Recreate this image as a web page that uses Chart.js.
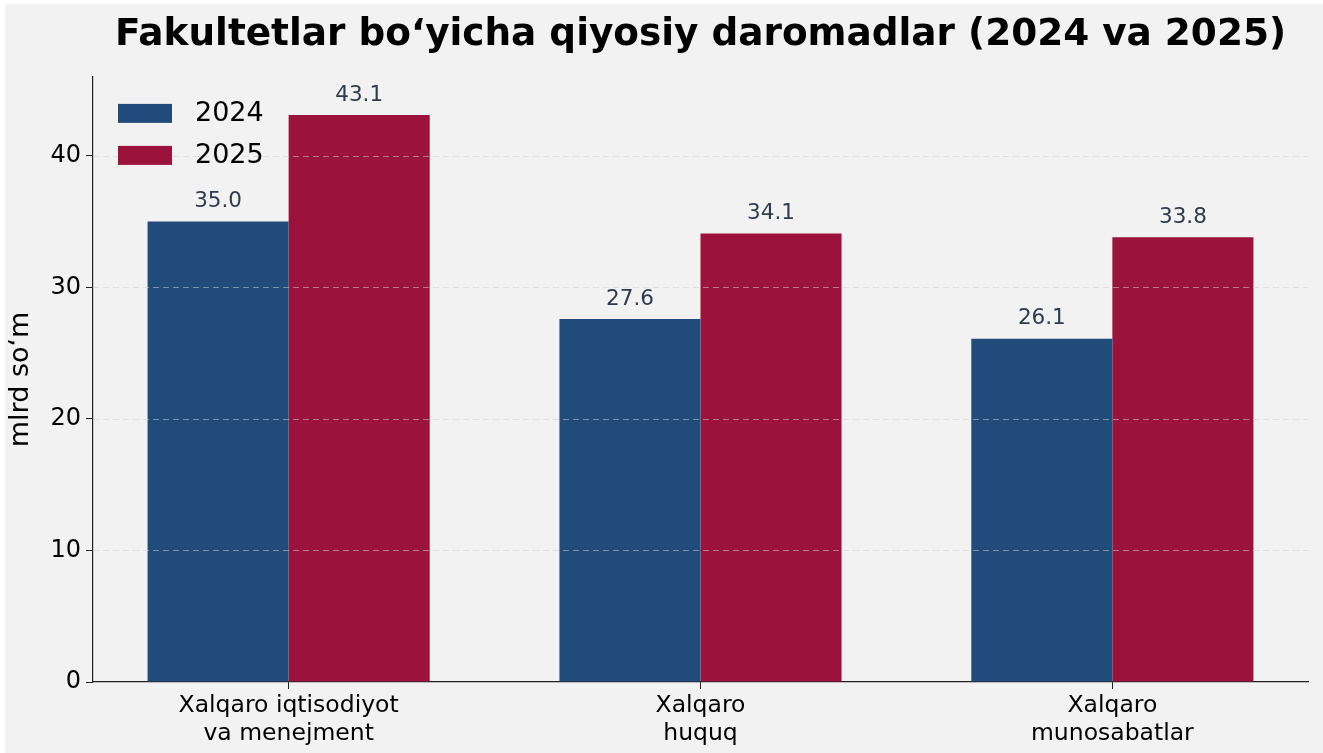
<!DOCTYPE html>
<html>
<head>
<meta charset="utf-8">
<script src="https://cdn.jsdelivr.net/npm/chart.js@4"></script>
<style>
  html, body { margin: 0; padding: 0; background: #ffffff; }
  #wrap { position: absolute; left: 5px; top: 4px; width: 1318px; height: 749px; background: #f2f2f2; }
</style>
</head>
<body>
<div id="wrap"><canvas id="chart"></canvas></div>
<script>
// Chart data
const categories = [
  ['Xalqaro iqtisodiyot', 'va menejment'],
  ['Xalqaro', 'huquq'],
  ['Xalqaro', 'munosabatlar']
];
const years = ['2024', '2025'];
const values2024 = [35.0, 27.6, 26.1];
const values2025 = [43.1, 34.1, 33.8];
const yTicks = [0, 10, 20, 30, 40];

const FONT = "'DejaVu Sans', sans-serif";

// Dashed horizontal grid drawn over the bars
const gridOnTop = {
  id: 'gridOnTop',
  afterDatasetsDraw(chart) {
    const ctx = chart.ctx;
    const area = chart.chartArea;
    const y = chart.scales.y;
    ctx.save();
    ctx.strokeStyle = 'rgba(205,205,205,0.55)';
    ctx.lineWidth = 1;
    ctx.setLineDash([6, 4]);
    yTicks.forEach(v => {
      if (v === 0) return;
      const py = Math.round(y.getPixelForValue(v)) + 0.5;
      ctx.beginPath();
      ctx.moveTo(area.left, py);
      ctx.lineTo(area.right, py);
      ctx.stroke();
    });
    ctx.restore();
  }
};

// Value labels above every bar
const barLabels = {
  id: 'barLabels',
  afterDatasetsDraw(chart) {
    const ctx = chart.ctx;
    ctx.save();
    ctx.font = '21.5px ' + FONT;
    ctx.fillStyle = '#2e3a4e';
    ctx.textAlign = 'center';
    ctx.textBaseline = 'bottom';
    chart.data.datasets.forEach((ds, i) => {
      chart.getDatasetMeta(i).data.forEach((bar, j) => {
        ctx.fillText(ds.data[j].y.toFixed(1), bar.x, bar.y - 9);
      });
    });
    ctx.restore();
  }
};

// Legend drawn inside the plot, top left
const innerLegend = {
  id: 'innerLegend',
  afterDraw(chart) {
    const ctx = chart.ctx;
    const area = chart.chartArea;
    ctx.save();
    ctx.font = '27px ' + FONT;
    ctx.textBaseline = 'middle';
    ctx.textAlign = 'left';
    chart.data.datasets.forEach((ds, i) => {
      const x = area.left + 25;
      const y = area.top + 27 + i * 42;
      ctx.fillStyle = ds.backgroundColor;
      ctx.fillRect(x, y, 54, 19);
      ctx.fillStyle = '#000000';
      ctx.fillText(ds.label, x + 77, y + 10);
    });
    ctx.restore();
  }
};

const ctx = document.getElementById('chart').getContext('2d');
new Chart(ctx, {
  type: 'bar',
  data: {
    datasets: [
      {
        label: years[0],
        data: values2024.map((v, i) => ({ x: i, y: v })),
        backgroundColor: '#214b7b',
        categoryPercentage: 0.685,
        barPercentage: 1.0
      },
      {
        label: years[1],
        data: values2025.map((v, i) => ({ x: i, y: v })),
        backgroundColor: '#9b123d',
        categoryPercentage: 0.685,
        barPercentage: 1.0
      }
    ]
  },
  options: {
    responsive: true,
    maintainAspectRatio: false,
    animation: false,
    layout: { padding: { left: 0, right: 15, top: 0, bottom: 0 } },
    plugins: {
      title: {
        display: true,
        text: 'Fakultetlar bo‘yicha qiyosiy daromadlar (2024 va 2025)',
        fullSize: false,
        color: '#000000',
        font: { family: FONT, size: 37.4, weight: 'bold' },
        padding: { top: 9, bottom: 19 }
      },
      legend: { display: false },
      tooltip: { enabled: false }
    },
    scales: {
      x: {
        type: 'linear',
        min: -0.475,
        max: 2.475,
        offset: false,
        afterBuildTicks: function(scale) {
          scale.ticks = categories.map((c, i) => ({ value: i }));
        },
        afterFit: function(scale) {
          scale.height = 71;
        },
        ticks: {
          color: '#000000',
          font: { family: FONT, size: 23.5 },
          padding: 3,
          maxRotation: 0,
          autoSkip: false,
          callback: function(value) {
            return categories[value];
          }
        },
        grid: {
          offset: false,
          drawOnChartArea: false,
          drawTicks: true,
          tickLength: 7,
          tickColor: '#222222',
          tickWidth: 1
        },
        border: { color: '#222222', width: 1.2 }
      },
      y: {
        min: 0,
        max: 46,
        afterBuildTicks: function(scale) {
          scale.ticks = yTicks.map(v => ({ value: v }));
        },
        afterFit: function(scale) {
          scale.width = 88;
        },
        ticks: {
          color: '#000000',
          font: { family: FONT, size: 24 },
          padding: 5
        },
        title: {
          display: true,
          text: 'mlrd so‘m',
          color: '#000000',
          font: { family: FONT, size: 27 },
          padding: { top: 0, bottom: 4 }
        },
        grid: {
          drawOnChartArea: false,
          drawTicks: true,
          tickLength: 7,
          tickColor: '#222222',
          tickWidth: 1
        },
        border: { color: '#222222', width: 1.2 }
      }
    }
  },
  plugins: [gridOnTop, barLabels, innerLegend]
});
</script>
</body>
</html>
